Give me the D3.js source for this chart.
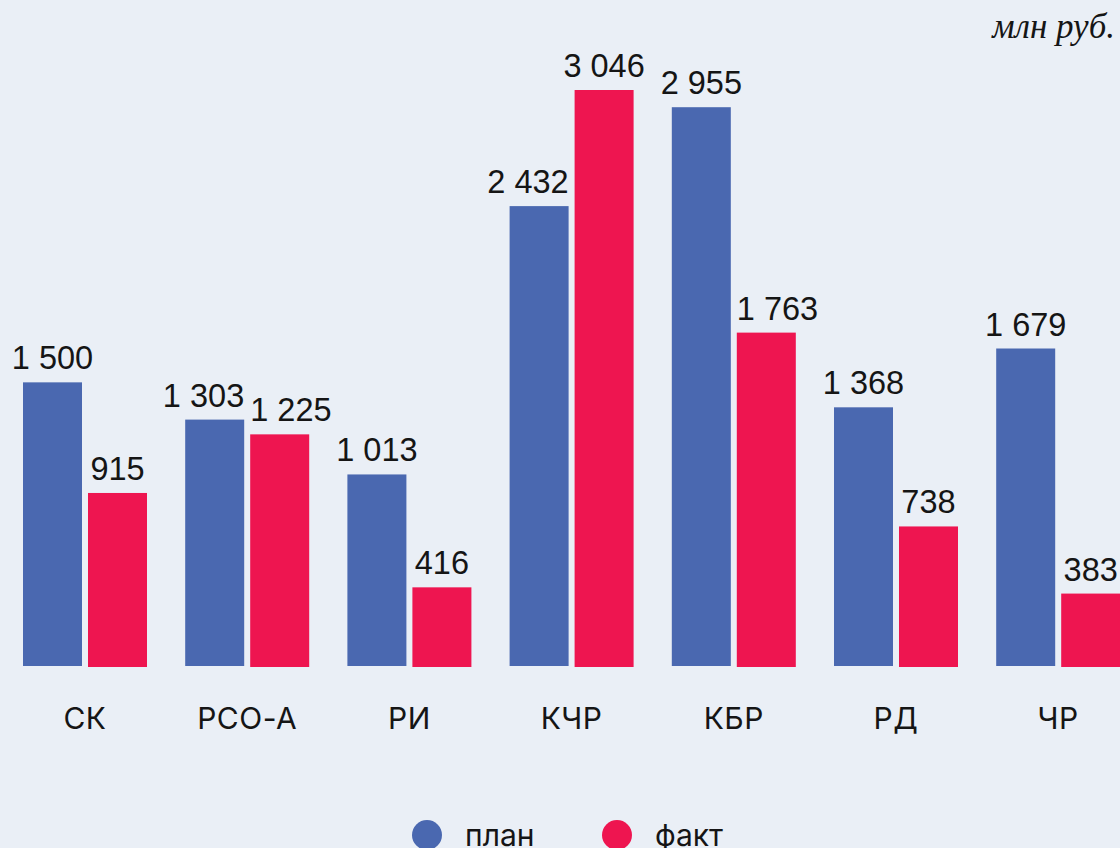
<!DOCTYPE html>
<html>
<head>
<meta charset="utf-8">
<script src="https://cdn.jsdelivr.net/npm/d3@7"></script>
<style>
  html, body { margin: 0; padding: 0; background: #eaeff6; }
  svg { display: block; }
</style>
</head>
<body>
<div id="chart"></div>
<script>
var categories = ['СК', 'РСО-А', 'РИ', 'КЧР', 'КБР', 'РД', 'ЧР'];
var seriesNames = ['план', 'факт'];
var planValues = [1500, 1303, 1013, 2432, 2955, 1368, 1679];
var factValues = [915, 1225, 416, 3046, 1763, 738, 383];
var unitLabel = 'млн руб.';

var config = {
  width: 1120,
  height: 848,
  baseline: 666,
  top: 90,
  colors: ['#4a68b0', '#ee1550'],
  font: 'Inter, Roboto, "Noto Sans", sans-serif',
  valueFont: '"Liberation Sans", Arial, sans-serif'
};

var data = categories.map(function(c, i) {
  return { cat: c, values: [planValues[i], factValues[i]] };
});

var svg = d3.select('#chart').append('svg')
  .attr('width', config.width)
  .attr('height', config.height);

svg.append('rect').attr('width', config.width).attr('height', config.height).attr('fill', '#eaeff6');

var x0 = d3.scaleBand().domain(categories).range([23, 1120.2]).paddingInner(0.2355).paddingOuter(0);
var x1 = d3.scaleBand().domain(seriesNames).range([0, x0.bandwidth()]).paddingInner(0.0923);
var y = d3.scaleLinear().domain([0, d3.max(factValues.concat(planValues))]).range([config.baseline, config.top]);

var fmt = function(v) { return d3.format(',')(v).replace(/,/g, ' '); };

var groups = svg.selectAll('.grp').data(data).enter().append('g')
  .attr('class', 'grp')
  .attr('transform', function(d) { return 'translate(' + x0(d.cat) + ',0)'; });

groups.each(function(d) {
  var g = d3.select(this);
  var cells = d.values.map(function(v, i) {
    return { s: seriesNames[i], v: v, i: i, x: x1(seriesNames[i]), top: y(v) };
  });

  g.selectAll('rect').data(cells).enter().append('rect')
    .attr('x', function(c) { return c.x; })
    .attr('width', x1.bandwidth())
    .attr('y', function(c) { return c.top; })
    .attr('height', function(c) { return config.baseline - c.top + c.i; })
    .attr('fill', function(c) { return config.colors[c.i]; });

  var labels = g.selectAll('text').data(cells).enter().append('text')
    .attr('y', function(c) { return c.top - 13; })
    .style('font-family', config.valueFont)
    .style('font-size', '32.5px')
    .attr('fill', '#151515')
    .text(function(c) { return fmt(c.v); });

  // centred by default; pushed flush to the inner bar edge if it would hit the other bar or label
  labels.each(function(c) { c.w = this.getComputedTextLength(); });
  var bw = x1.bandwidth();
  function box(c, mode) {
    var x;
    if (mode === 'center') x = c.x + bw / 2 - c.w / 2;
    else if (c.i === 0) x = c.x + bw - c.w;
    else x = c.x;
    return { x0: x, x1: x + c.w, y0: c.top - 13 - 23, y1: c.top - 13 };
  }
  function hit(a, b) { return a.x0 < b.x1 && b.x0 < a.x1 && a.y0 < b.y1 && b.y0 < a.y1; }
  cells.forEach(function(c) { c.mode = 'center'; });
  cells.forEach(function(c) {
    var o = cells[1 - c.i];
    var bar = { x0: o.x, x1: o.x + bw, y0: o.top, y1: config.baseline };
    if (hit(box(c, 'center'), bar)) c.mode = 'flush';
  });
  cells.forEach(function(c) {
    var o = cells[1 - c.i];
    if (c.mode === 'center' && hit(box(c, 'center'), box(o, o.mode))) c.mode = 'flush';
  });
  labels.attr('x', function(c) { return box(c, c.mode).x0; });
});

// category labels
svg.selectAll('.cat').data(categories).enter().append('text')
  .attr('class', 'cat')
  .attr('x', function(d) { return x0(d) + x0.bandwidth() / 2; })
  .attr('y', 729)
  .attr('text-anchor', 'middle')
  .style('font-family', config.font)
  .style('font-size', '30px')
  .style('letter-spacing', '0.5px')
  .attr('fill', '#151515')
  .text(function(d) { return d; });

// unit
svg.append('text')
  .attr('x', 1115)
  .attr('y', 38)
  .attr('text-anchor', 'end')
  .style('font-family', '"Liberation Serif", serif')
  .style('font-style', 'italic')
  .style('font-size', '35px')
  .attr('fill', '#151515')
  .text(unitLabel);

// legend
var legendX = [427, 617];
var legend = svg.selectAll('.legend').data(seriesNames).enter().append('g')
  .attr('class', 'legend')
  .attr('transform', function(d, i) { return 'translate(' + legendX[i] + ',835)'; });
legend.append('circle').attr('r', 15).attr('fill', function(d, i) { return config.colors[i]; });
legend.append('text')
  .attr('x', 38)
  .attr('y', 11)
  .style('font-family', config.font)
  .style('font-size', '30px')
  .attr('fill', '#151515')
  .text(function(d) { return d; });
</script>
</body>
</html>
